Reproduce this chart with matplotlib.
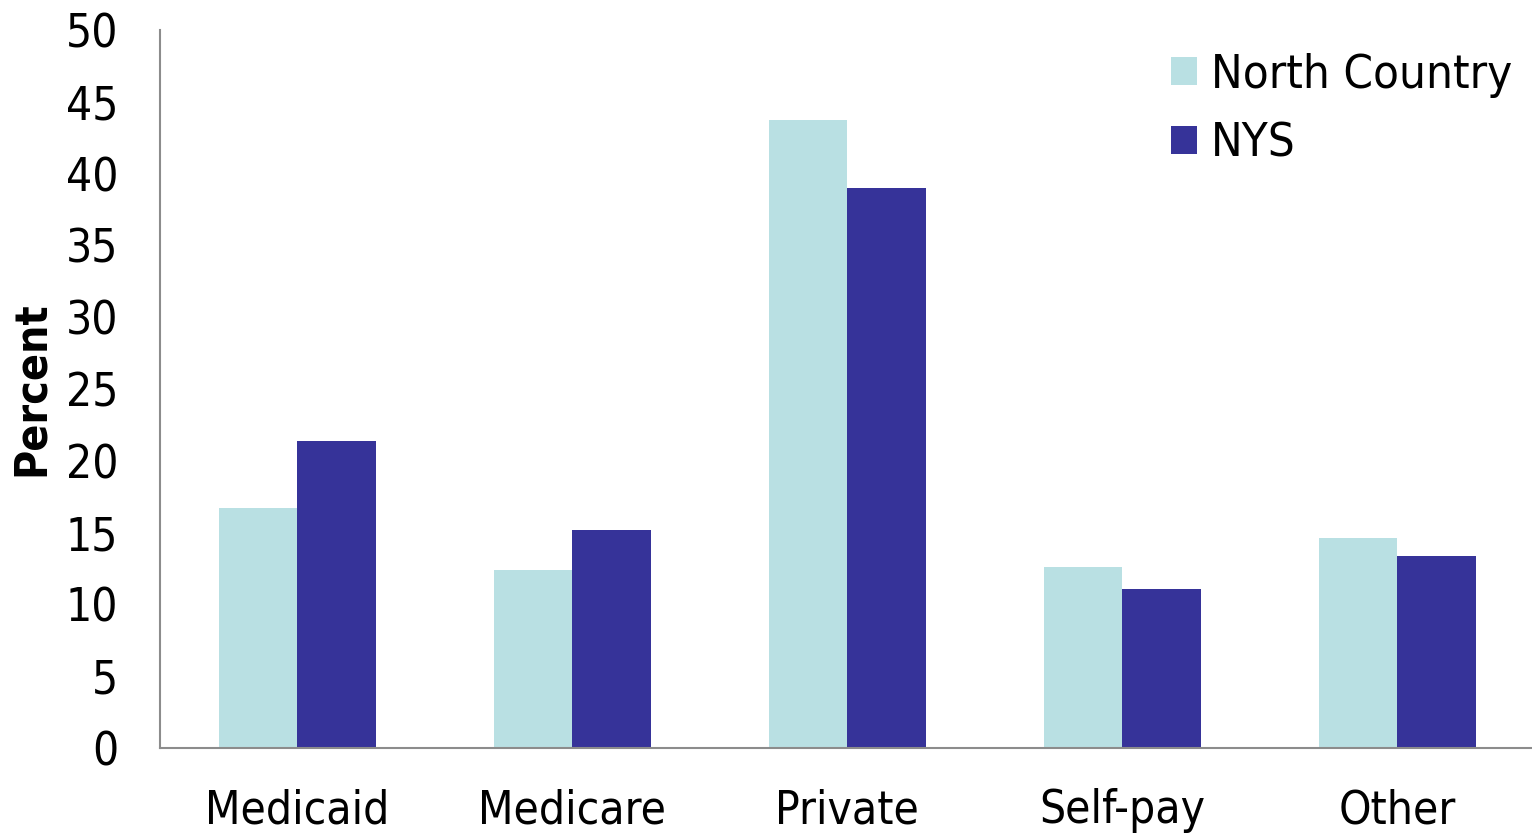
import numpy as np
import matplotlib.pyplot as plt

plt.rcParams['font.family'] = ['DejaVu Sans']
plt.rcParams['font.stretch'] = 'condensed'

categories = ["Medicaid", "Medicare", "Private", "Self-pay", "Other"]
north_country = [16.7, 12.4, 43.7, 12.6, 14.6]
nys = [21.4, 15.2, 39.0, 11.1, 13.4]

fig = plt.figure(figsize=(15.32, 8.35), dpi=100)
ax = fig.add_axes([160 / 1532, 1 - 748 / 835, 1372 / 1532, 718 / 835])

x = np.arange(len(categories))
w = 0.285
ax.bar(x - w / 2, north_country, width=w, color="#B9E0E3", label="North Country")
ax.bar(x + w / 2, nys, width=w, color="#363399", label="NYS")

ax.set_xlim(-0.5, 4.49)
ax.set_ylim(0, 50)
ax.set_yticks(range(0, 51, 5))
ax.set_xticks(x)
ax.set_xticklabels(categories)
ax.tick_params(axis='both', length=0, labelsize=33)
ax.tick_params(axis='y', pad=30)
ax.tick_params(axis='x', pad=29)

for s in ["top", "right"]:
    ax.spines[s].set_visible(False)
for s in ["left", "bottom"]:
    ax.spines[s].set_color("#8c8c8c")
    ax.spines[s].set_linewidth(1.5)

ax.set_ylabel("Percent", fontsize=32, fontweight="bold")
ax.yaxis.set_label_coords(-0.078, 0.5)

ax.legend(loc="upper left", bbox_to_anchor=(992 / 1372, 1 - 4 / 718), frameon=False, fontsize=34,
          handlelength=0.55, handleheight=0.55, handletextpad=0.3, labelspacing=0.5,
          borderaxespad=0.0)

plt.savefig("out.png", dpi=100)
